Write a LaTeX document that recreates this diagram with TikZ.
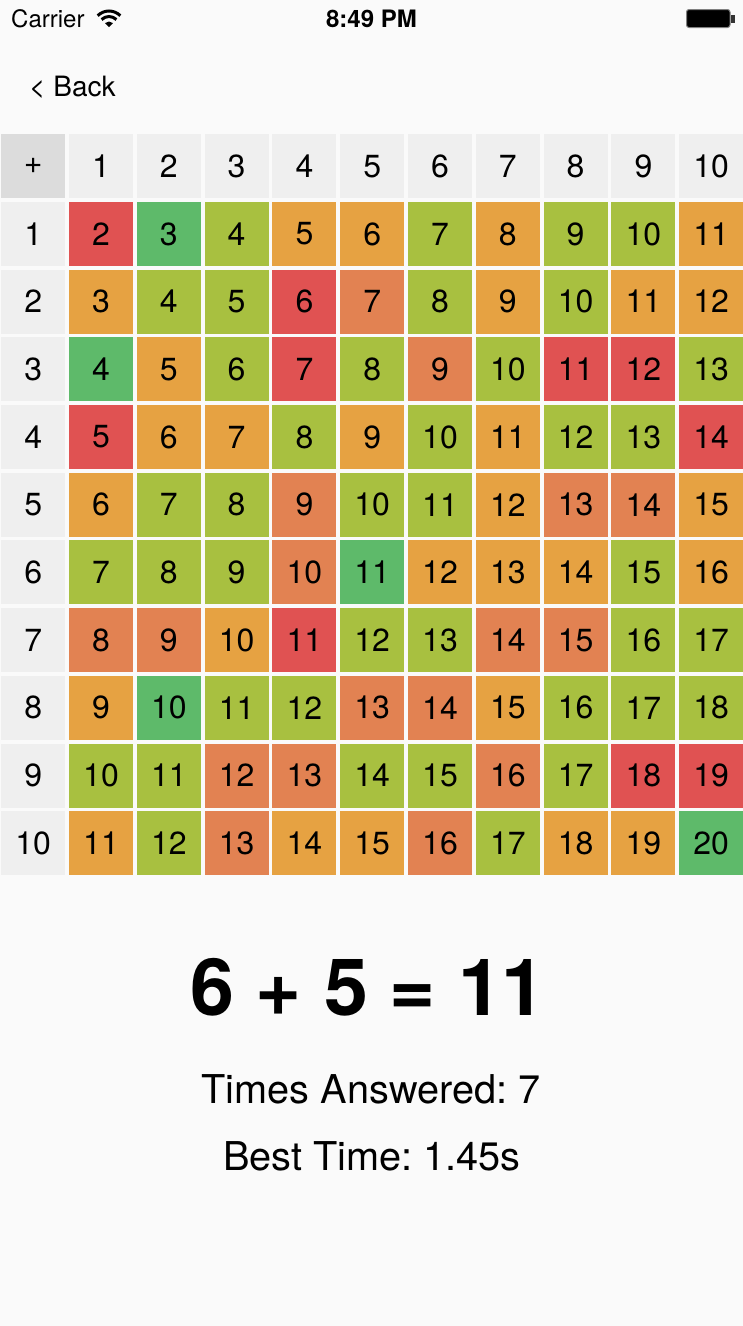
\documentclass[tikz,border=0pt]{standalone}
\usepackage{fontspec}
\setmainfont{TeX Gyre Heros}
\frenchspacing
\definecolor{bg}{HTML}{FAFAFA}
\definecolor{hdr}{HTML}{EFEFEF}
\definecolor{corner}{HTML}{DCDCDC}
\definecolor{cR}{HTML}{E05252}
\definecolor{cG}{HTML}{5EBA6A}
\definecolor{cY}{HTML}{A8C040}
\definecolor{cO}{HTML}{E6A242}
\definecolor{cS}{HTML}{E28252}
\tikzset{
  cellbox/.style={rectangle, minimum width=64pt, minimum height=64pt, inner sep=0pt, anchor=north west, font=\fontsize{32}{36}\selectfont},
  stattext/.style={inner sep=0pt, anchor=base, font=\fontsize{39.7}{46}\selectfont},
}
\begin{document}
\begin{tikzpicture}[x=1pt,y=1pt]
\fill[bg] (0,0) rectangle (743,-1326);
\useasboundingbox (0,0) rectangle (743,-1326);
% status bar
\node[inner sep=0pt, anchor=base west, font=\fontsize{24}{28}\selectfont] (carrier) at (11,-27) {Carrier};
\begin{scope}[shift={(109,-27)}]
  \fill[black] (0,0) -- (45:5.5) arc (45:135:5.5) -- cycle;
  \draw[black, line width=3pt] (45:10.5) arc (45:135:10.5);
  \draw[black, line width=3pt] (45:16) arc (45:135:16);
\end{scope}
\node[inner sep=0pt, anchor=base, font=\bfseries\fontsize{24}{28}\selectfont] (clock) at (371.5,-27) {8:49 PM};
\draw[gray, fill=black, line width=1pt, rounded corners=2.5pt] (686.5,-9.5) rectangle (730,-27.5);
\fill[black!80] (730.5,-15) rectangle (734.5,-22.5);
% back
\node[inner sep=0pt, anchor=base west, font=\fontsize{28}{32}\selectfont] (back) at (29,-96) {< Back};
% header
\node[cellbox, fill=corner] (cell-0-0) at (1,-134) {\raisebox{-2pt}{+}};
\foreach \c in {1,...,10}{
  \node[cellbox, fill=hdr] (cell-0-\c) at ({1+67.8*\c},-134) {\raisebox{-2.5pt}{\c}};
  \node[cellbox, fill=hdr] (cell-\c-0) at (1,{-(134+67.7*\c)}) {\raisebox{-2.5pt}{\c}};
}
% body
\foreach \row [count=\r] in {
  {cR,cG,cY,cO,cO,cY,cO,cY,cY,cO},
  {cO,cY,cY,cR,cS,cY,cO,cY,cO,cO},
  {cG,cO,cY,cR,cY,cS,cY,cR,cR,cY},
  {cR,cO,cO,cY,cO,cY,cO,cY,cY,cR},
  {cO,cY,cY,cS,cY,cY,cO,cS,cS,cO},
  {cY,cY,cY,cS,cG,cO,cO,cO,cY,cO},
  {cS,cS,cO,cR,cY,cY,cS,cS,cY,cY},
  {cO,cG,cY,cY,cS,cS,cO,cY,cY,cY},
  {cY,cY,cS,cS,cY,cY,cS,cY,cR,cR},
  {cO,cY,cS,cO,cO,cS,cY,cO,cO,cG}}{
  \foreach \k [count=\c] in \row {
    \pgfmathtruncatemacro\s{\r+\c}
    \node[cellbox, fill=\k] (cell-\r-\c) at ({1+67.8*\c},{-(134+67.7*\r)}) {\raisebox{-2.5pt}{\s}};
  }
}
% bottom texts
\node[inner sep=0pt, anchor=base, font=\bfseries\fontsize{79}{90}\selectfont] (equation) at (368,-1015) {6 + 5 = 11};
\node[stattext] (answered) at (371,-1103) {Times Answered: 7};
\node[stattext] (besttime) at (372,-1170) {Best Time: 1.45s};
\end{tikzpicture}
\end{document}
